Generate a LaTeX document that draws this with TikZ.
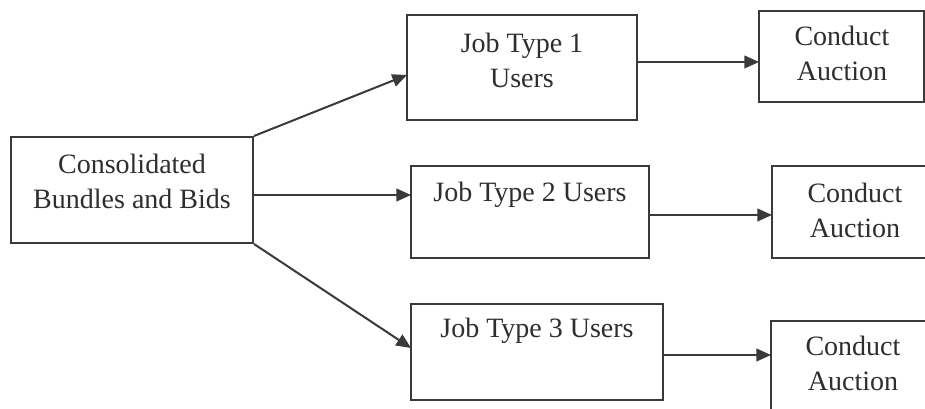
\documentclass[tikz,border=0pt]{standalone}
\usepackage{fontspec}
\setmainfont{Liberation Serif}
\usetikzlibrary{arrows.meta}
\definecolor{ink}{HTML}{3A3A3A}
\definecolor{txt}{HTML}{2E2E2E}
\begin{document}
\begin{tikzpicture}[x=0.75pt,y=-0.75pt,
  box/.style={draw=ink,line width=1.5pt,inner sep=0pt,fill=white},
  lbl/.style={text=txt,font=\fontsize{21}{26.25}\selectfont,align=center,inner sep=0pt},
  conn/.style={draw=ink,line width=1.5pt,-{Triangle[length=11pt,width=9.5pt]}}]
\clip (0,0) rectangle (925,409);
\fill[white] (0,0) rectangle (925,409);

% boxes (position = centre, size in px)
\node[box,minimum width=242*0.75pt,minimum height=106*0.75pt] (src) at (132,190) {};
\node[box,minimum width=230*0.75pt,minimum height=105*0.75pt] (j1) at (522,67.5) {};
\node[box,minimum width=238*0.75pt,minimum height=92*0.75pt] (j2) at (530,212) {};
\node[box,minimum width=252*0.75pt,minimum height=96*0.75pt] (j3) at (537,352) {};
\node[box,minimum width=165*0.75pt,minimum height=91*0.75pt] (c1) at (841.5,56.5) {};
\node[box,minimum width=170*0.75pt,minimum height=92*0.75pt] (c2) at (857,212) {};
\node[box,minimum width=170*0.75pt,minimum height=100*0.75pt] (c3) at (856,371) {};

% labels
\node[lbl] (tsrc) at (132,181) {Consolidated\\Bundles and Bids};
\node[lbl] (tj1) at (522,60) {Job Type 1\\Users};
\node[lbl] (tj2) at (530,195) {Job Type 2 Users};
\node[lbl] (tj3) at (537,331) {Job Type 3 Users};
\node[lbl] (tc1) at (842,53) {Conduct\\Auction};
\node[lbl] (tc2) at (855,210) {Conduct\\Auction};
\node[lbl] (tc3) at (853,363) {Conduct\\Auction};

% connector end points
\coordinate (s1) at (src.north east);
\coordinate (s2) at (253,195);
\coordinate (s3) at (src.south east);
\coordinate (e1) at (407,75);
\coordinate (e2) at (411,195);
\coordinate (e3) at (411,348);
\coordinate (o1) at (637,62);
\coordinate (i1) at (759,62);
\coordinate (o2) at (649,215);
\coordinate (i2) at (772,215);
\coordinate (o3) at (663,355);
\coordinate (i3) at (771,355);

\draw[conn] (s1) -- (e1);
\draw[conn] (s2) -- (e2);
\draw[conn] (s3) -- (e3);
\draw[conn] (o1) -- (i1);
\draw[conn] (o2) -- (i2);
\draw[conn] (o3) -- (i3);
\end{tikzpicture}
\end{document}
